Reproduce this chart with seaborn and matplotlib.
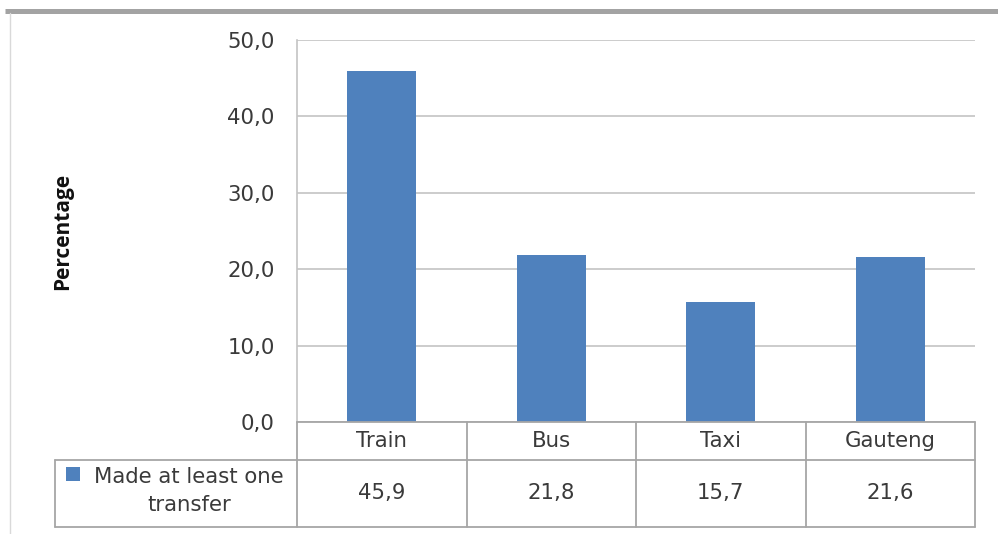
import matplotlib
matplotlib.use("Agg")
import matplotlib.pyplot as plt
import seaborn as sns
import pandas as pd
from matplotlib.patches import Rectangle
from matplotlib.lines import Line2D

categories = ["Train", "Bus", "Taxi", "Gauteng"]
values = [45.9, 21.8, 15.7, 21.6]
value_labels = ["45,9", "21,8", "15,7", "21,6"]
series_name = "Made at least one\ntransfer"
yticks = [0, 10, 20, 30, 40, 50]
ytick_labels = ["0,0", "10,0", "20,0", "30,0", "40,0", "50,0"]

sns.set_theme(style="white")
plt.rcParams["font.family"] = ["DejaVu Sans"]

W, H = 998, 534
fig = plt.figure(figsize=(W / 100, H / 100), dpi=100)
fig.patch.set_facecolor("white")

def fx(px):
    return px / W

def fy(py):
    return 1 - py / H

FS = 15.3
TXT = "#3A3A3A"
left, right, top, bottom = 297, 975, 40, 422
ax = fig.add_axes([fx(left), fy(bottom), fx(right) - fx(left), fy(top) - fy(bottom)])

df = pd.DataFrame({"cat": categories, "val": values})
bar_color = "#4F81BD"
sns.barplot(data=df, x="cat", y="val", order=categories, color=bar_color,
            saturation=1, width=0.41, ax=ax, zorder=3, linewidth=0, edgecolor="none")

ax.set_xlim(-0.5, len(categories) - 0.5)
ax.set_ylim(0, 50)
ax.set_yticks(yticks)
ax.set_yticklabels(ytick_labels, fontsize=FS, color=TXT)
ax.tick_params(axis="y", length=0, pad=16)
ax.set_xticks([])
ax.set_xlabel("")
ax.set_ylabel("")
grid_c = "#C4C4C4"
ax.yaxis.grid(True, color=grid_c, linewidth=1.2, zorder=0)
for s in ["top", "right", "bottom"]:
    ax.spines[s].set_visible(False)
ax.spines["left"].set_color(grid_c)
ax.spines["left"].set_linewidth(1.2)

fig.text(fx(63), fy(231), "Percentage", rotation=90, ha="center", va="center",
         fontsize=15, fontweight="bold", color="#111111", family="Open Sans")

# Data table below the chart
tbl_c = "#A6A6A6"
col_edges_px = [left + i * (right - left) / len(categories) for i in range(len(categories) + 1)]
row1_bot, row2_bot, leg_left = 460, 527, 55

def hline(x0, x1, y):
    fig.add_artist(Line2D([fx(x0), fx(x1)], [fy(y), fy(y)], color=tbl_c, linewidth=1.3))

def vline(x, y0, y1):
    fig.add_artist(Line2D([fx(x), fx(x)], [fy(y0), fy(y1)], color=tbl_c, linewidth=1.3))

hline(left, right, bottom)
hline(leg_left, right, row1_bot)
hline(leg_left, right, row2_bot)
for xe in col_edges_px:
    vline(xe, bottom, row2_bot)
vline(leg_left, row1_bot, row2_bot)

for i, cat in enumerate(categories):
    cx = (col_edges_px[i] + col_edges_px[i + 1]) / 2
    fig.text(fx(cx), fy(441), cat, ha="center", va="center", fontsize=FS, color=TXT)
    fig.text(fx(cx), fy(493), value_labels[i], ha="center", va="center", fontsize=FS, color=TXT)

fig.add_artist(Rectangle((fx(66), fy(481)), fx(14), fy(467) - fy(481), facecolor=bar_color,
                         edgecolor="none", transform=fig.transFigure))
fig.text(fx(189), fy(491), series_name, ha="center", va="center", fontsize=FS,
         color=TXT, linespacing=1.5)

# Outer frame bits
fig.add_artist(Line2D([fx(5), fx(998)], [fy(10.5), fy(10.5)], color="#A3A3A3", linewidth=3.6,
                      solid_capstyle="butt"))
fig.add_artist(Line2D([fx(10), fx(10)], [fy(13), fy(534)], color="#D9D9D9", linewidth=1))

fig.savefig("out.png", dpi=100, facecolor="white")
